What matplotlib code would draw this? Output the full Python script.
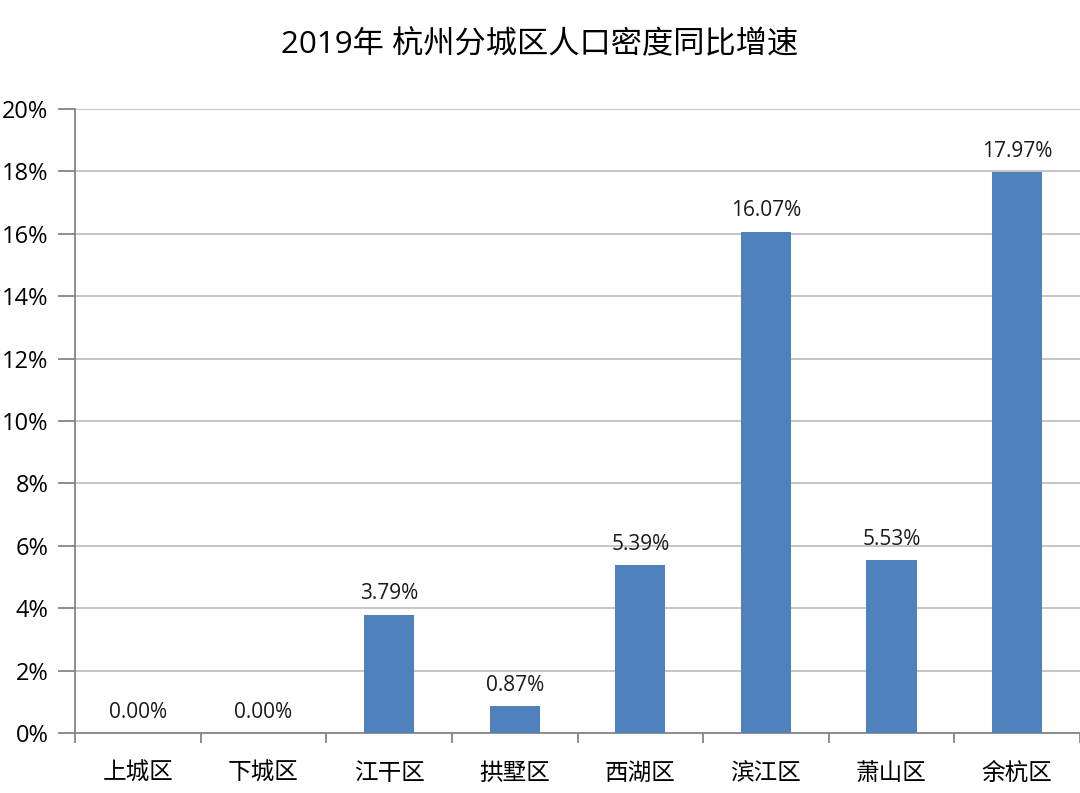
import numpy as np
import matplotlib
matplotlib.use('Agg')
import matplotlib.pyplot as plt

plt.rcParams['font.family'] = ['Open Sans', 'Noto Sans CJK SC', 'DejaVu Sans']

# data
districts = ['上城区', '下城区', '江干区', '拱墅区', '西湖区', '滨江区', '萧山区', '余杭区']
growth = [0.00, 0.00, 3.79, 0.87, 5.39, 16.07, 5.53, 17.97]
title = '2019年 杭州分城区人口密度同比增速'

fig = plt.figure(figsize=(10.8, 7.93), dpi=100)
ax = fig.add_axes([75/1080, 60/793, 1 - 75/1080, 624/793])

x = np.arange(len(districts))
ax.bar(x, growth, width=0.4, color='#4F81BD', zorder=3)

for xi, v in zip(x, growth):
    ax.text(xi, v + 0.33, '%.2f%%' % v, ha='center', va='bottom', fontsize=15, color='#1a1a1a')

ax.set_xlim(-0.5, len(districts) - 0.5)
ax.set_ylim(0, 20)
ax.set_yticks(np.arange(0, 21, 2))
ax.set_yticklabels(['%d%%' % t for t in range(0, 21, 2)], fontsize=17)
ax.yaxis.grid(True, color='#C0C0C0', linewidth=1.3, zorder=0)

# category labels centered, tick marks at boundaries
ax.set_xticks(x)
ax.set_xticklabels(districts, fontsize=17, family=['Noto Sans CJK SC'])
ax.tick_params(axis='x', length=0, pad=21)
ax.set_xticks(np.arange(-0.5, len(districts)), minor=True)
ax.tick_params(axis='x', which='minor', length=7, color='#868686', width=1.3)
ax.tick_params(axis='y', length=12, color='#868686', width=1.3, pad=7)

for s in ['top', 'right']:
    ax.spines[s].set_visible(False)
for s in ['left', 'bottom']:
    ax.spines[s].set_color('#868686')
    ax.spines[s].set_linewidth(1.3)

fig.text(0.5, 1 - 45/793, title, ha='center', va='center', fontsize=22.5)

fig.savefig('out.png', dpi=100)
